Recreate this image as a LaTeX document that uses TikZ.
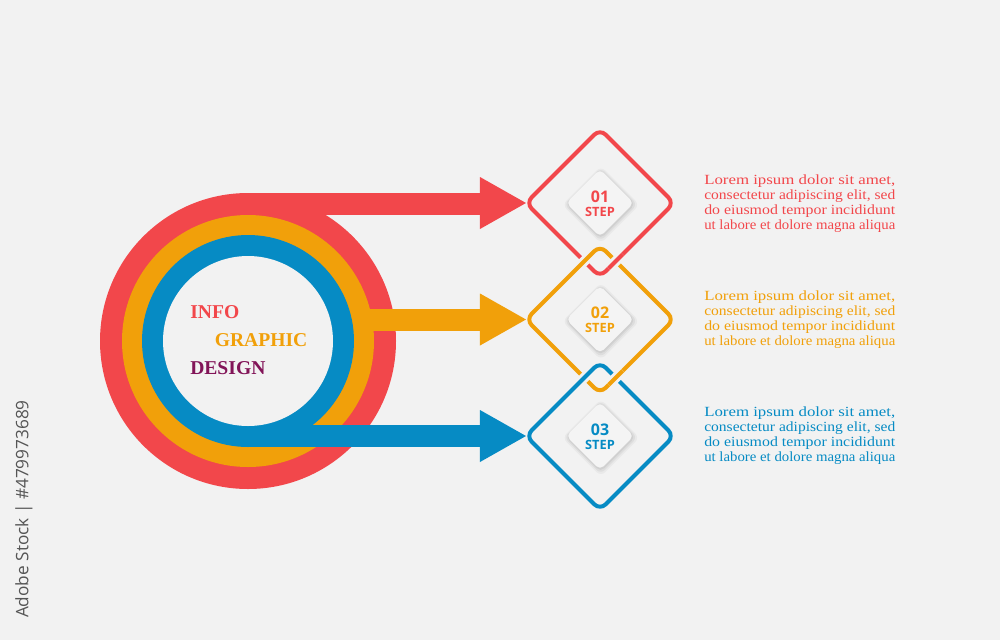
\documentclass[tikz,border=0pt]{standalone}
\usepackage{graphicx}
\usepackage{fontspec}
\setmainfont{Liberation Serif}
\newfontfamily\bodyfont{Liberation Serif}
\newfontfamily\titlefont{Liberation Serif}
\newfontfamily\stepfont{Open Sans}
\newfontfamily\wmfont{Open Sans}
\usetikzlibrary{shadows,calc}
\definecolor{bgc}{HTML}{F2F2F2}
\definecolor{tilec}{HTML}{F4F4F4}
\definecolor{cred}{HTML}{F2474B}
\definecolor{corange}{HTML}{F1A00A}
\definecolor{cblue}{HTML}{068BC4}
\definecolor{cpurple}{HTML}{821458}
\definecolor{wmc}{HTML}{555555}
\newcommand\fitline[1]{\resizebox{143.25pt}{\height}{#1}}
\tikzset{
  frame/.style={rectangle, rotate=45, minimum size=78.5pt, inner sep=0pt, outer sep=0pt,
    line width=3pt, rounded corners=6pt, preaction={draw=bgc, line width=7.5pt}},
  tile/.style={rectangle, rotate=45, minimum size=36pt, inner sep=0pt, outer sep=0pt,
    rounded corners=4pt, fill=tilec,
    drop shadow={shadow scale=1.14, shadow xshift=0.6pt, shadow yshift=-1.2pt, opacity=0.035, fill=black},
    drop shadow={shadow scale=1.08, shadow xshift=0.5pt, shadow yshift=-1pt, opacity=0.05, fill=black},
    drop shadow={shadow scale=1.03, shadow xshift=0.4pt, shadow yshift=-0.8pt, opacity=0.06, fill=black}},
  num/.style={font=\stepfont\bfseries\fontsize{12pt}{12pt}\selectfont, inner sep=0pt},
  steplbl/.style={font=\stepfont\bfseries\fontsize{9.6pt}{10pt}\selectfont, inner sep=0pt},
  title/.style={font=\titlefont\bfseries\fontsize{14.7pt}{16pt}\selectfont, inner sep=0pt, anchor=base west},
  body/.style={font=\bodyfont\fontsize{10.5pt}{11.25pt}\selectfont, inner sep=0pt, anchor=north west, align=left},
  disc/.style={circle, inner sep=0pt, outer sep=0pt},
  halo/.style={draw=bgc, line width=7.5pt},
  link/.style={line width=3pt},
}
\begin{document}
\begin{tikzpicture}[x=0.75pt, y=-0.75pt]
\fill[bgc] (0,0) rectangle (1000,640);
\useasboundingbox (0,0) rectangle (1000,640);

% watermark id
\node[rotate=90, anchor=east, font=\wmfont\fontsize{12.9pt}{13pt}\selectfont, text=wmc, inner sep=0pt] (wm) at (24,400) {Adobe Stock | \#479973689};

% step frames (interlocked)
\node[frame, draw=cred] (d1) at (600,203) {};
\node[frame, draw=corange] (d2) at (600,319.5) {};
\node[frame, draw=cblue] (d3) at (600,436) {};
\coordinate (x12) at (615.75,261.25);
\coordinate (x23) at (615.75,377.75);
\draw[halo] ($(x12)+(7,-7)$) -- ($(x12)+(-7,7)$);
\draw[link, cred] ($(x12)+(7,-7)$) -- ($(x12)+(-7,7)$);
\draw[halo] ($(x23)+(7,-7)$) -- ($(x23)+(-7,7)$);
\draw[link, corange] ($(x23)+(7,-7)$) -- ($(x23)+(-7,7)$);

% inner tiles
\node[tile] (k1) at (d1.center) {};
\node[tile] (k2) at (d2.center) {};
\node[tile] (k3) at (d3.center) {};
\node[num, text=cred] (n1) at ($(d1.center)+(0,-6.5)$) {01};
\node[steplbl, text=cred] (s1) at ($(d1.center)+(0,8.7)$) {STEP};
\node[num, text=corange] (n2) at ($(d2.center)+(0,-6.5)$) {02};
\node[steplbl, text=corange] (s2) at ($(d2.center)+(0,8.7)$) {STEP};
\node[num, text=cblue] (n3) at ($(d3.center)+(0,-6.5)$) {03};
\node[steplbl, text=cblue] (s3) at ($(d3.center)+(0,8.7)$) {STEP};

% rings and arrows
\coordinate (ctr) at (248,341);
\node[disc, fill=cred, minimum size=222pt] (ringR) at (ctr) {};
\fill[cred] (ringR.north) rectangle ($(d1.north west)+(-44,12)$);
\fill[cred] ($(d1.north west)+(-46,-26)$) -- (d1.north west) -- ($(d1.north west)+(-46,26)$) -- cycle;

\node[disc, fill=corange, minimum size=189pt] (ringO) at (ctr) {};
\fill[corange] (248,309) rectangle ($(d2.north west)+(-44,11.5)$);
\fill[corange] ($(d2.north west)+(-46,-26)$) -- (d2.north west) -- ($(d2.north west)+(-46,26)$) -- cycle;

\node[disc, fill=cblue, minimum size=159pt] (ringB) at (ctr) {};
\fill[cblue] (ringB.south) rectangle ($(d3.north west)+(-44,-11)$);
\fill[cblue] ($(d3.north west)+(-46,-26)$) -- (d3.north west) -- ($(d3.north west)+(-46,26)$) -- cycle;

\node[disc, fill=bgc, minimum size=127.5pt] (hub) at (ctr) {};

% title
\node[title, text=cred] (info) at (190,318.3) {INFO};
\node[title, text=corange] (graphic) at (214.5,346.7) {GRAPHIC};
\node[title, text=cpurple] (design) at (190,374) {DESIGN};

% descriptions
\node[body, text=cred] (t1) at (704,174.7) {\fitline{Lorem ipsum dolor sit amet,}\\\fitline{consectetur adipiscing elit, sed}\\\fitline{do eiusmod tempor incididunt}\\\fitline{ut labore et dolore magna aliqua}};
\node[body, text=corange] (t2) at (704,290.4) {\fitline{Lorem ipsum dolor sit amet,}\\\fitline{consectetur adipiscing elit, sed}\\\fitline{do eiusmod tempor incididunt}\\\fitline{ut labore et dolore magna aliqua}};
\node[body, text=cblue] (t3) at (704,407) {\fitline{Lorem ipsum dolor sit amet,}\\\fitline{consectetur adipiscing elit, sed}\\\fitline{do eiusmod tempor incididunt}\\\fitline{ut labore et dolore magna aliqua}};
\end{tikzpicture}
\end{document}
